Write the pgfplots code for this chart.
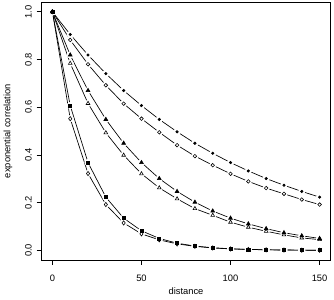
\documentclass[border=0pt]{standalone}
\usepackage{fontspec}
\setmainfont{Liberation Sans}
\usepackage{pgfplots}
\usepackage{pgfplotstable}
\pgfplotsset{compat=1.18}
\pgfplotstableread{
x s1 s2 s3 s4 s5 s6
0 1 1 1 1 1 1
10 0.905 0.882 0.819 0.784 0.607 0.552
20 0.819 0.780 0.670 0.616 0.368 0.322
30 0.741 0.692 0.549 0.493 0.223 0.192
40 0.670 0.615 0.449 0.399 0.135 0.115
50 0.607 0.552 0.368 0.321 0.082 0.069
60 0.549 0.495 0.301 0.262 0.050 0.044
70 0.497 0.441 0.247 0.216 0.030 0.027
80 0.449 0.395 0.202 0.175 0.018 0.017
90 0.407 0.357 0.165 0.147 0.011 0.010
100 0.368 0.321 0.135 0.118 0.0067 0.006
110 0.333 0.289 0.111 0.097 0.0041 0.0037
120 0.301 0.261 0.091 0.080 0.0025 0.0022
130 0.273 0.237 0.074 0.065 0.0015 0.0014
140 0.247 0.213 0.061 0.052 0.0009 0.0008
150 0.223 0.192 0.050 0.045 0.0006 0.0005
}\data
\begin{document}
\fontsize{7}{8.4}\selectfont
\begin{tikzpicture}
\path[use as bounding box] (-31.3pt,-30pt) rectangle (219.3pt,195pt);
\begin{axis}[
  scale only axis, width=216.5pt, height=193.3pt,
  at={(0,0)}, anchor=south west,
  xmin=-6, xmax=156, ymin=-0.04, ymax=1.04,
  xtick={0,50,100,150}, ytick={0,0.2,0.4,0.6,0.8,1.0},
  tick pos=left, tick align=outside, major tick length=3.75pt,
  tick style={black, line width=0.5pt},
  axis line style={line width=0.6pt},
  /pgf/number format/assume math mode=true,
  yticklabel style={/pgf/number format/.cd, fixed, fixed zerofill, precision=1, /tikz/.cd, rotate=90, anchor=center, yshift=6.2pt},
  xticklabel style={yshift=-5.4pt},
  ticklabel style={font=\fontsize{7}{8.4}\selectfont},
  label style={font=\fontsize{7}{8.4}\selectfont},
  xlabel={distance}, ylabel={exponential correlation},
  x label style={at={(axis description cs:0.5,0)}, anchor=center, yshift=-23.6pt},
  y label style={at={(axis description cs:0,0.5)}, anchor=center, yshift=25.3pt},
  every axis plot/.append style={line width=0.5pt, black},
]
% lines
\addplot[no marks] table[x=x,y=s1] {\data};
\addplot[no marks] table[x=x,y=s2] {\data};
\addplot[no marks] table[x=x,y=s3] {\data};
\addplot[no marks] table[x=x,y=s4] {\data};
\addplot[no marks] table[x=x,y=s5] {\data};
\addplot[no marks] table[x=x,y=s6] {\data};
% halos
\pgfplotsset{halo/.style={only marks, white, mark=*, mark size=2.4pt, mark options={draw=white, fill=white}}}
\addplot[halo] table[x=x,y=s1] {\data};
\addplot[halo] table[x=x,y=s2] {\data};
\addplot[halo] table[x=x,y=s3] {\data};
\addplot[halo] table[x=x,y=s4] {\data};
\addplot[halo] table[x=x,y=s5] {\data};
\addplot[halo] table[x=x,y=s6] {\data};
% marks
\addplot[only marks, mark=*, mark size=0.9pt, mark options={fill=black}] table[x=x,y=s1] {\data};
\addplot[only marks, mark=o, mark size=1.35pt, mark options={line width=0.45pt}] table[x=x,y=s2] {\data};
\addplot[only marks, mark=triangle*, mark size=1.6pt, mark options={fill=black}] table[x=x,y=s3] {\data};
\addplot[only marks, mark=triangle, mark size=1.6pt, mark options={line width=0.45pt}] table[x=x,y=s4] {\data};
\addplot[only marks, mark=square*, mark size=1.15pt, mark options={fill=black}] table[x=x,y=s5] {\data};
\addplot[only marks, mark=diamond, mark size=1.6pt, mark options={line width=0.45pt}] table[x=x,y=s6] {\data};
\end{axis}
\end{tikzpicture}
\end{document}
